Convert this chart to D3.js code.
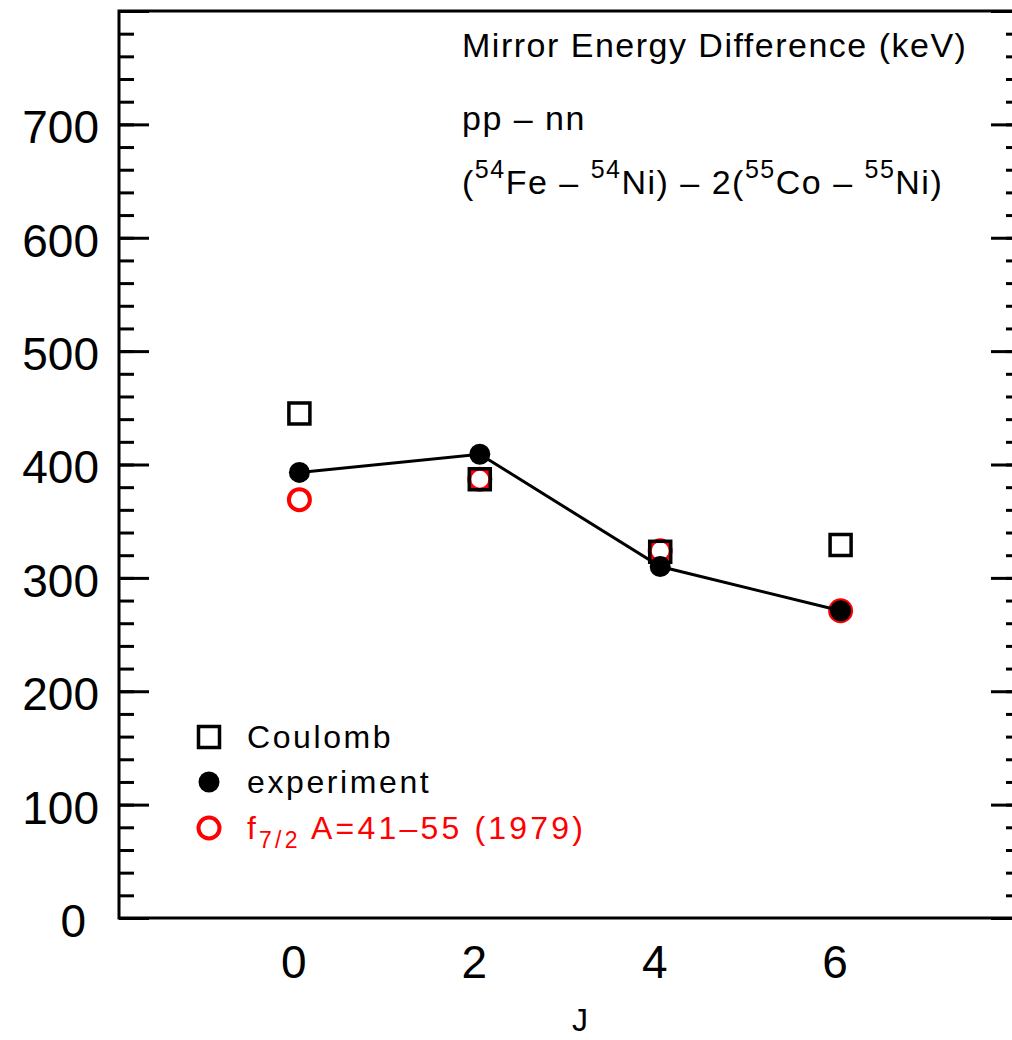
<!DOCTYPE html>
<html><head><meta charset="utf-8">
<script src="https://cdn.jsdelivr.net/npm/d3@7"></script>
<style>
body{margin:0;background:#fff}
text{font-family:"Liberation Sans",Arial,Helvetica,sans-serif}
</style>
</head><body>
<svg id="c" width="1012" height="1040"></svg>
<script>
// ---- data ----
const J = [0, 2, 4, 6];
const coulomb = [445, 387, 323, 329];
const experiment = [393, 409, 310, 271];
const f72 = [369, 387, 324, 271];
const yTickLabels = [0, 100, 200, 300, 400, 500, 600, 700];
const xTickLabels = [0, 2, 4, 6];
const legendLabels = ["Coulomb", "experiment", "f7/2 A=41–55 (1979)"];
const xTitle = "J";

const svg = d3.select("#c");
const X0 = 119, X1 = 1021, Y0 = 918, Y1 = 11;
const x = d3.scaleLinear().domain([-2, 8]).range([X0, X1]);
const y = d3.scaleLinear().domain([0, 800]).range([Y0, Y1]);

// frame
svg.append("rect").attr("x", X0).attr("y", Y1).attr("width", X1 - X0).attr("height", Y0 - Y1)
  .attr("fill", "none").attr("stroke", "#000").attr("stroke-width", 3);

function styleAxis(g) {
  g.select(".domain").remove();
  g.selectAll(".tick line").attr("stroke", "#000").attr("stroke-width", 3);
}
// left minor/major ticks
svg.append("g").attr("transform", `translate(${X0},0)`)
  .call(d3.axisLeft(y).tickValues(d3.range(0, 801, 20)).tickSize(-15).tickFormat(""))
  .call(styleAxis);
svg.append("g").attr("transform", `translate(${X0},0)`)
  .call(d3.axisLeft(y).tickValues(d3.range(0, 801, 100)).tickSize(-30).tickFormat(""))
  .call(styleAxis);
// right ticks
svg.append("g").attr("transform", `translate(${X1},0)`)
  .call(d3.axisRight(y).tickValues(d3.range(0, 801, 20)).tickSize(-15).tickFormat(""))
  .call(styleAxis);
svg.append("g").attr("transform", `translate(${X1},0)`)
  .call(d3.axisRight(y).tickValues(d3.range(0, 801, 100)).tickSize(-30).tickFormat(""))
  .call(styleAxis);
// y labels
const yl = svg.append("g").attr("transform", `translate(${X0},0)`)
  .call(d3.axisLeft(y).tickValues(yTickLabels).tickSize(0).tickPadding(20).tickFormat(d3.format("d")));
yl.select(".domain").remove();
yl.selectAll("text").attr("font-size", 46).attr("fill", "#000").attr("dy", "0.4em")
  .attr("dx", d => d === 0 ? -13 : 0)
  .style("font-family", '"Liberation Sans",Arial,sans-serif');
// x labels
const xl = svg.append("g").attr("transform", `translate(0,${Y0})`)
  .call(d3.axisBottom(x).tickValues(xTickLabels).tickSize(0).tickPadding(27).tickFormat(d3.format("d")));
xl.select(".domain").remove();
xl.selectAll("text").attr("font-size", 46).attr("fill", "#000").attr("dx", -6)
  .style("font-family", '"Liberation Sans",Arial,sans-serif');
// x title
svg.append("text").attr("x", 580).attr("y", 1031).attr("text-anchor", "middle")
  .attr("font-size", 32).text(xTitle);

// ---- marks ----
const pts = J.map((j, i) => ({ j, c: coulomb[i], e: experiment[i], f: f72[i] }));
svg.append("g").selectAll("circle").data(pts).join("circle")
  .attr("cx", d => x(d.j)).attr("cy", d => y(d.f)).attr("r", 10.5)
  .attr("fill", "none").attr("stroke", "#ff0000").attr("stroke-width", 4);
svg.append("g").selectAll("rect").data(pts).join("rect")
  .attr("x", d => x(d.j) - 10.5).attr("y", d => y(d.c) - 10.5).attr("width", 21).attr("height", 21)
  .attr("fill", "none").attr("stroke", "#000").attr("stroke-width", 3.5);
svg.append("path").datum(pts)
  .attr("d", d3.line().x(d => x(d.j)).y(d => y(d.e)))
  .attr("fill", "none").attr("stroke", "#000").attr("stroke-width", 3);
svg.append("g").selectAll("circle").data(pts).join("circle")
  .attr("cx", d => x(d.j)).attr("cy", d => y(d.e)).attr("r", 10.5).attr("fill", "#000");

// ---- annotation text ----
const ann = svg.append("g").attr("font-size", 34).attr("letter-spacing", 1.5).attr("fill", "#000");
ann.append("text").attr("x", 462).attr("y", 57).text("Mirror Energy Difference (keV)");
ann.append("text").attr("x", 462).attr("y", 130).text("pp – nn");
const t3 = ann.append("text").attr("x", 462).attr("y", 194);
const parts = [["(", 0], ["54", 1], ["Fe – ", 0], ["54", 1], ["Ni) – 2(", 0], ["55", 1], ["Co – ", 0], ["55", 1], ["Ni)", 0]];
parts.forEach(([s, sup], i) => {
  const prev = i > 0 ? parts[i - 1][1] : 0;
  const ts = t3.append("tspan").text(s)
    .attr("dy", sup && !prev ? -16 : (!sup && prev ? 16 : 0));
  if (sup) ts.attr("font-size", 25);
});

// ---- legend ----
const lg = svg.append("g").attr("font-size", 32).attr("letter-spacing", 2.6);
lg.append("rect").attr("x", 209 - 10.5).attr("y", 737 - 10.5).attr("width", 21).attr("height", 21)
  .attr("fill", "none").attr("stroke", "#000").attr("stroke-width", 3.5);
lg.append("text").attr("x", 247).attr("y", 748).text(legendLabels[0]);
lg.append("circle").attr("cx", 209).attr("cy", 782).attr("r", 10.5).attr("fill", "#000");
lg.append("text").attr("x", 247).attr("y", 793).text(legendLabels[1]);
lg.append("circle").attr("cx", 209).attr("cy", 828).attr("r", 10.5)
  .attr("fill", "none").attr("stroke", "#ff0000").attr("stroke-width", 4);
const rt = lg.append("text").attr("x", 247).attr("y", 839).attr("fill", "#ff0000").attr("letter-spacing", 3.2);
rt.append("tspan").text("f");
rt.append("tspan").attr("font-size", 23).attr("dy", 9).text("7/2");
rt.append("tspan").attr("dy", -9).text(" A=41–55 (1979)");
</script>
</body></html>
